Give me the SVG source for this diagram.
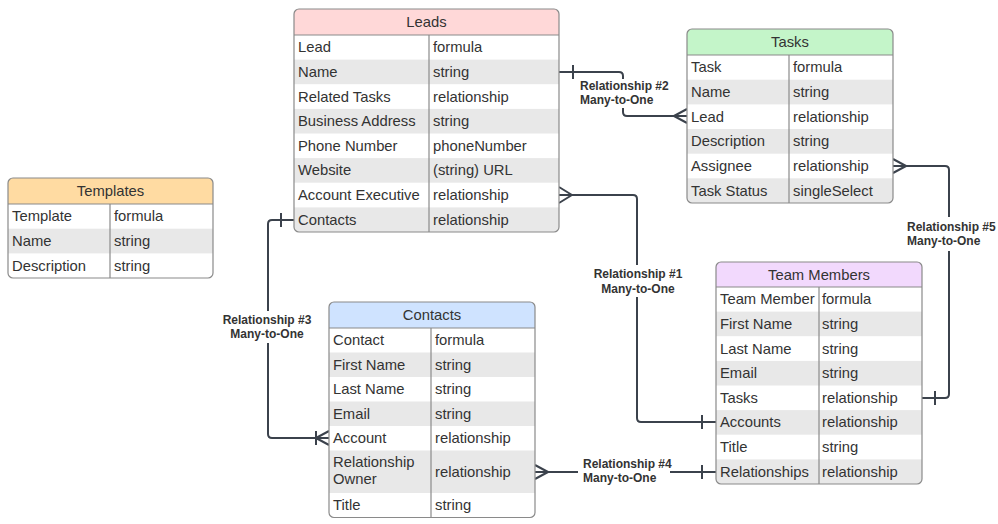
<svg xmlns="http://www.w3.org/2000/svg" width="998" height="524" viewBox="0 0 998 524">
<style>
.t{font-family:"Liberation Sans",Arial,sans-serif;font-size:14.8px;fill:#333}
.h{font-family:"Liberation Sans",Arial,sans-serif;font-size:14.8px;fill:#333;text-anchor:middle}
.lb{font-family:"Liberation Sans",Arial,sans-serif;font-size:12px;font-weight:bold;fill:#333}
.c{text-anchor:middle}
.g{fill:#e8e8e8}
.bd{fill:none;stroke:#8a8a8a;stroke-width:1.2}
.dv{stroke:#8a8a8a;stroke-width:1.2}
.cn{fill:none;stroke:#3b424c;stroke-width:2;stroke-linejoin:round}
</style>
<defs>
<clipPath id="cL"><rect x="294" y="9" width="265" height="223" rx="5"/></clipPath>
<clipPath id="cT"><rect x="687" y="29" width="206" height="174" rx="5"/></clipPath>
<clipPath id="cP"><rect x="8" y="178" width="205" height="100" rx="5"/></clipPath>
<clipPath id="cC"><rect x="329" y="302" width="206" height="215.5" rx="5"/></clipPath>
<clipPath id="cM"><rect x="716" y="262" width="206" height="222" rx="5"/></clipPath>
</defs>
<rect width="998" height="524" fill="#fff"/>

<g id="connectors">
<path class="cn" d="M559,195 H633 Q637,195 637,199 V265 M637,297 V418 Q637,422 641,422 H716 M559,187 L572,195 L559,203 M702,415 V429"/>
<path class="cn" d="M559,72 H619 Q623,72 623,76 V79 M623,108 V112 Q623,116 627,116 H687 M573,65 V79 M687,109 L674,116 L687,123"/>
<path class="cn" d="M294,220 H272 Q268,220 268,224 V311 M268,343 V434 Q268,438 272,438 H329 M281,213 V227 M329,431 L316,438 L329,445 M316,431 V445"/>
<path class="cn" d="M535,472 H578 M670,472 H716 M535,465 L548,472 L535,479 M702,465 V479"/>
<path class="cn" d="M893,166 H945 Q949,166 949,170 V217 M949,251 V394 Q949,398 945,398 H922 M893,159 L906,166 L893,173 M935,391 V405"/>
<text class="lb c" x="638" y="278">Relationship #1</text>
<text class="lb c" x="638" y="293">Many-to-One</text>
<text class="lb" x="580" y="90">Relationship #2</text>
<text class="lb" x="580" y="104">Many-to-One</text>
<text class="lb c" x="267" y="324">Relationship #3</text>
<text class="lb c" x="267" y="338">Many-to-One</text>
<text class="lb" x="583" y="468">Relationship #4</text>
<text class="lb" x="583" y="482">Many-to-One</text>
<text class="lb" x="907" y="231">Relationship #5</text>
<text class="lb" x="907" y="245">Many-to-One</text>
</g>

<g id="leads">
<g clip-path="url(#cL)">
<rect x="294" y="9" width="265" height="223" fill="#fff"/>
<rect x="294" y="9" width="265" height="26" fill="#ffd8d8"/>
<rect class="g" x="294" y="59.6" width="265" height="24.6"/>
<rect class="g" x="294" y="108.9" width="265" height="24.6"/>
<rect class="g" x="294" y="158.1" width="265" height="24.6"/>
<rect class="g" x="294" y="207.4" width="265" height="24.6"/>
</g>
<line class="dv" x1="294" y1="35" x2="559" y2="35"/>
<line class="dv" x1="429" y1="35" x2="429" y2="232"/>
<rect class="bd" x="294" y="9" width="265" height="223" rx="5"/>
<text class="h" x="426.5" y="27">Leads</text>
<text class="t" x="298" y="52.3">Lead</text><text class="t" x="433" y="52.3">formula</text>
<text class="t" x="298" y="76.9">Name</text><text class="t" x="433" y="76.9">string</text>
<text class="t" x="298" y="101.6">Related Tasks</text><text class="t" x="433" y="101.6">relationship</text>
<text class="t" x="298" y="126.2">Business Address</text><text class="t" x="433" y="126.2">string</text>
<text class="t" x="298" y="150.8">Phone Number</text><text class="t" x="433" y="150.8">phoneNumber</text>
<text class="t" x="298" y="175.4">Website</text><text class="t" x="433" y="175.4">(string) URL</text>
<text class="t" x="298" y="200.1">Account Executive</text><text class="t" x="433" y="200.1">relationship</text>
<text class="t" x="298" y="224.7">Contacts</text><text class="t" x="433" y="224.7">relationship</text>
</g>

<g id="tasks">
<g clip-path="url(#cT)">
<rect x="687" y="29" width="206" height="174" fill="#fff"/>
<rect x="687" y="29" width="206" height="26" fill="#c4f5c9"/>
<rect class="g" x="687" y="79.7" width="206" height="24.7"/>
<rect class="g" x="687" y="129" width="206" height="24.7"/>
<rect class="g" x="687" y="178.3" width="206" height="24.7"/>
</g>
<line class="dv" x1="687" y1="55" x2="893" y2="55"/>
<line class="dv" x1="789" y1="55" x2="789" y2="203"/>
<rect class="bd" x="687" y="29" width="206" height="174" rx="5"/>
<text class="h" x="790" y="47">Tasks</text>
<text class="t" x="691" y="72.3">Task</text><text class="t" x="793" y="72.3">formula</text>
<text class="t" x="691" y="97">Name</text><text class="t" x="793" y="97">string</text>
<text class="t" x="691" y="121.7">Lead</text><text class="t" x="793" y="121.7">relationship</text>
<text class="t" x="691" y="146.3">Description</text><text class="t" x="793" y="146.3">string</text>
<text class="t" x="691" y="171">Assignee</text><text class="t" x="793" y="171">relationship</text>
<text class="t" x="691" y="195.7">Task Status</text><text class="t" x="793" y="195.7">singleSelect</text>
</g>

<g id="templates">
<g clip-path="url(#cP)">
<rect x="8" y="178" width="205" height="100" fill="#fff"/>
<rect x="8" y="178" width="205" height="26" fill="#ffdba2"/>
<rect class="g" x="8" y="228.7" width="205" height="24.7"/>
</g>
<line class="dv" x1="8" y1="204" x2="213" y2="204"/>
<line class="dv" x1="110" y1="204" x2="110" y2="278"/>
<rect class="bd" x="8" y="178" width="205" height="100" rx="5"/>
<text class="h" x="110.5" y="196">Templates</text>
<text class="t" x="12" y="221.3">Template</text><text class="t" x="114" y="221.3">formula</text>
<text class="t" x="12" y="246">Name</text><text class="t" x="114" y="246">string</text>
<text class="t" x="12" y="270.7">Description</text><text class="t" x="114" y="270.7">string</text>
</g>

<g id="contacts">
<g clip-path="url(#cC)">
<rect x="329" y="302" width="206" height="215.5" fill="#fff"/>
<rect x="329" y="302" width="206" height="26" fill="#cfe3ff"/>
<rect class="g" x="329" y="352.5" width="206" height="24.5"/>
<rect class="g" x="329" y="401.5" width="206" height="24.5"/>
<rect class="g" x="329" y="450.5" width="206" height="42.5"/>
</g>
<line class="dv" x1="329" y1="328" x2="535" y2="328"/>
<line class="dv" x1="431" y1="328" x2="431" y2="517.5"/>
<rect class="bd" x="329" y="302" width="206" height="215.5" rx="5"/>
<text class="h" x="432" y="320">Contacts</text>
<text class="t" x="333" y="345">Contact</text><text class="t" x="435" y="345">formula</text>
<text class="t" x="333" y="369.5">First Name</text><text class="t" x="435" y="369.5">string</text>
<text class="t" x="333" y="394">Last Name</text><text class="t" x="435" y="394">string</text>
<text class="t" x="333" y="418.5">Email</text><text class="t" x="435" y="418.5">string</text>
<text class="t" x="333" y="443">Account</text><text class="t" x="435" y="443">relationship</text>
<text class="t" x="333" y="467">Relationship</text>
<text class="t" x="333" y="484">Owner</text><text class="t" x="435" y="477">relationship</text>
<text class="t" x="333" y="510">Title</text><text class="t" x="435" y="510">string</text>
</g>

<g id="team-members">
<g clip-path="url(#cM)">
<rect x="716" y="262" width="206" height="222" fill="#fff"/>
<rect x="716" y="262" width="206" height="25" fill="#f2d9fd"/>
<rect class="g" x="716" y="311.6" width="206" height="24.6"/>
<rect class="g" x="716" y="360.9" width="206" height="24.6"/>
<rect class="g" x="716" y="410.1" width="206" height="24.6"/>
<rect class="g" x="716" y="459.4" width="206" height="24.6"/>
</g>
<line class="dv" x1="716" y1="287" x2="922" y2="287"/>
<line class="dv" x1="819" y1="287" x2="819" y2="484"/>
<rect class="bd" x="716" y="262" width="206" height="222" rx="5"/>
<text class="h" x="819" y="279.5">Team Members</text>
<text class="t" x="720" y="304.3">Team Member</text><text class="t" x="822" y="304.3">formula</text>
<text class="t" x="720" y="328.9">First Name</text><text class="t" x="822" y="328.9">string</text>
<text class="t" x="720" y="353.6">Last Name</text><text class="t" x="822" y="353.6">string</text>
<text class="t" x="720" y="378.2">Email</text><text class="t" x="822" y="378.2">string</text>
<text class="t" x="720" y="402.8">Tasks</text><text class="t" x="822" y="402.8">relationship</text>
<text class="t" x="720" y="427.4">Accounts</text><text class="t" x="822" y="427.4">relationship</text>
<text class="t" x="720" y="452.1">Title</text><text class="t" x="822" y="452.1">string</text>
<text class="t" x="720" y="476.7">Relationships</text><text class="t" x="822" y="476.7">relationship</text>
</g>
</svg>
